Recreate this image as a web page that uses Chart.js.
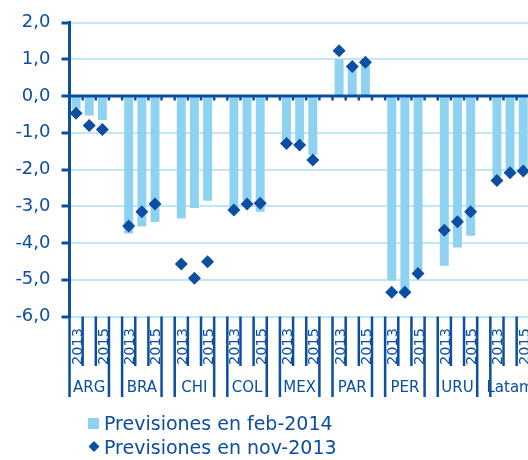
<!DOCTYPE html>
<html>
<head>
<meta charset="utf-8">
<script src="https://cdn.jsdelivr.net/npm/chart.js@4/dist/chart.umd.min.js"></script>
<style>
  html, body { margin: 0; padding: 0; background: #fff; overflow: hidden; }
  #wrap { width: 540px; height: 460px; }
</style>
</head>
<body>
<div id="wrap"><canvas id="chart" width="540" height="460"></canvas></div>
<script>
// groups on the category axis
const groups = ["ARG", "BRA", "CHI", "COL", "MEX", "PAR", "PER", "URU", "Latam"];
const years = ["2013", "2014", "2015"];
const shownYears = ["2013", "2015"];

// Previsiones en feb-2014 (bars), 3 years per group
const feb2014 = [
  -0.35, -0.53, -0.65,
  -3.74, -3.55, -3.43,
  -3.33, -3.05, -2.85,
  -3.05, -2.85, -3.15,
  -1.22, -1.22, -1.60,
  1.00, 0.78, 0.85,
  -5.02, -5.32, -4.75,
  -4.62, -4.12, -3.80,
  -2.20, -2.00, -1.95
];

// Previsiones en nov-2013 (diamonds)
const nov2013 = [
  -0.47, -0.80, -0.91,
  -3.54, -3.15, -2.94,
  -4.57, -4.96, -4.51,
  -3.10, -2.94, -2.92,
  -1.29, -1.33, -1.74,
  1.23, 0.80, 0.92,
  -5.34, -5.34, -4.83,
  -3.65, -3.42, -3.15,
  -2.30, -2.09, -2.04
];

const DARK = "#0b4ea2";
const LIGHT = "#8ed2f2";
const GRID = "#c0e6f7";
const FONT = "'DejaVu Sans', sans-serif";

// build slots: 3 years per group, one blank slot between groups
const labels = [];
const groupOf = [];
const barData = [];
const pointData = [];
groups.forEach((g, gi) => {
  years.forEach((yr, yi) => {
    labels.push(yr);
    groupOf.push(g);
    barData.push(feb2014[gi * 3 + yi]);
    pointData.push(nov2013[gi * 3 + yi]);
  });
  if (gi < groups.length - 1) {
    labels.push("");
    groupOf.push("");
    barData.push(null);
    pointData.push(null);
  }
});

// axis below the plot: separators, rotated years, group names, zero line, legend
const axisPlugin = {
  id: "axisPlugin",
  afterDatasetsDraw(chart) {
    const ctx = chart.ctx;
    const xs = chart.scales.x;
    const ys = chart.scales.y;
    const area = chart.chartArea;
    const step = xs.getPixelForValue(1) - xs.getPixelForValue(0);
    const first = xs.getPixelForValue(0) - step / 2;
    const y0 = ys.getPixelForValue(0);
    const n = labels.length;

    ctx.save();
    // zero line over the bars
    ctx.strokeStyle = DARK;
    ctx.lineWidth = 3;
    ctx.beginPath();
    ctx.moveTo(area.left, y0);
    ctx.lineTo(area.right + 2, y0);
    ctx.stroke();

    ctx.fillStyle = DARK;
    for (let i = 0; i <= n; i++) {
      const bx = first + i * step;
      // small ticks under zero line
      ctx.fillRect(bx - 1.25, y0, 2.5, 4.5);
      // separators below the plot
      const isGroupEdge = i === 0 || i === n || labels[i] === "" || labels[i - 1] === "";
      const yEnd = isGroupEdge ? 397 : 366;
      ctx.fillRect(bx - 1.25, area.bottom, 2.5, yEnd - area.bottom);
    }

    // rotated year labels
    ctx.font = "14.5px " + FONT;
    ctx.textAlign = "left";
    ctx.textBaseline = "alphabetic";
    for (let i = 0; i < n; i++) {
      if (!shownYears.includes(labels[i])) continue;
      const cx = xs.getPixelForValue(i);
      ctx.save();
      ctx.translate(cx, 365);
      ctx.rotate(-Math.PI / 2);
      ctx.fillText(labels[i], 0, 5.5);
      ctx.restore();
    }

    // group names under the middle slot
    ctx.font = "15px " + FONT;
    ctx.textAlign = "center";
    ctx.textBaseline = "middle";
    for (let i = 0; i < n; i++) {
      if (labels[i] !== "2014") continue;
      ctx.fillText(groupOf[i], xs.getPixelForValue(i), 388);
    }

    // legend
    const ds = chart.data.datasets;
    ctx.font = "19px " + FONT;
    ctx.textAlign = "left";
    ctx.textBaseline = "alphabetic";
    ctx.fillStyle = LIGHT;
    ctx.fillRect(88, 418, 11, 11);
    ctx.fillStyle = DARK;
    ctx.fillText(ds[1].label, 104, 430);
    ctx.beginPath();
    ctx.moveTo(94, 441);
    ctx.lineTo(99.5, 446.5);
    ctx.lineTo(94, 452);
    ctx.lineTo(88.5, 446.5);
    ctx.closePath();
    ctx.fill();
    ctx.fillText(ds[0].label, 104, 453.5);
    ctx.restore();
  }
};

new Chart(document.getElementById("chart"), {
  type: "bar",
  data: {
    labels: labels,
    datasets: [
      {
        type: "line",
        label: "Previsiones en nov-2013",
        data: pointData,
        showLine: false,
        pointStyle: "rectRot",
        pointRadius: 6.5,
        pointBackgroundColor: DARK,
        pointBorderColor: DARK,
        pointBorderWidth: 0,
        order: 1
      },
      {
        label: "Previsiones en feb-2014",
        data: barData,
        backgroundColor: LIGHT,
        borderWidth: 0,
        barPercentage: 0.68,
        categoryPercentage: 1,
        order: 2
      }
    ]
  },
  options: {
    responsive: false,
    devicePixelRatio: 1,
    animation: false,
    layout: { padding: { top: 22.5, right: 10.2, left: 0, bottom: 0 } },
    plugins: {
      legend: { display: false },
      tooltip: { enabled: false }
    },
    scales: {
      x: {
        type: "category",
        offset: true,
        grid: { display: false },
        border: { display: false },
        ticks: { display: false },
        afterFit(scale) { scale.height = 460 - 316.5; }
      },
      y: {
        min: -6,
        max: 2,
        ticks: {
          stepSize: 1,
          color: DARK,
          padding: 11,
          font: { family: FONT, size: 18 },
          callback: (v) => v.toFixed(1).replace(".", ",")
        },
        grid: {
          color: GRID,
          lineWidth: 2,
          tickLength: 8,
          tickColor: DARK,
          tickWidth: 3
        },
        border: { color: DARK, width: 3 },
        afterFit(scale) { scale.width = 69.5; }
      }
    }
  },
  plugins: [axisPlugin]
});
</script>
</body>
</html>
